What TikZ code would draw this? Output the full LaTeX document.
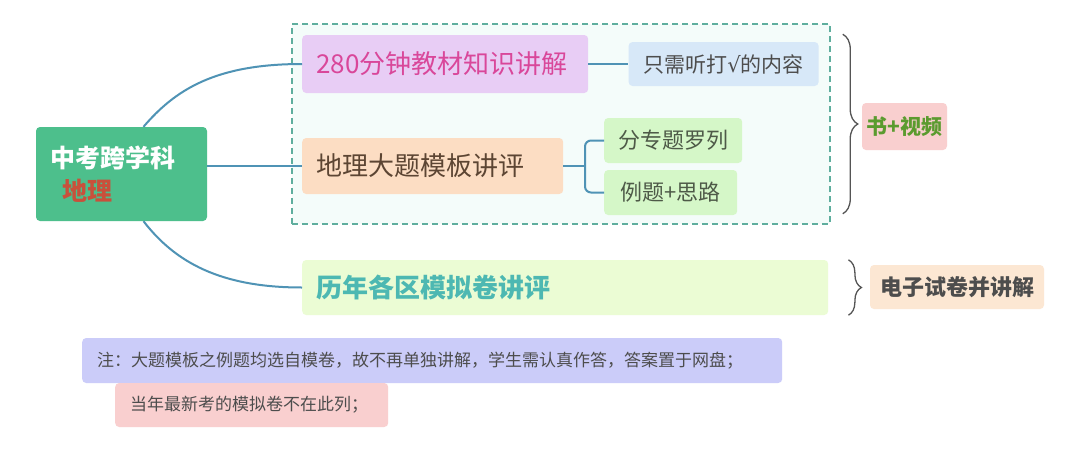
\documentclass[tikz,border=0pt]{standalone}
\usepackage{fontspec}
\setmainfont{Noto Sans CJK SC}
\newfontfamily\symfont{DejaVu Sans}
\usepackage{xcolor}
\usetikzlibrary{positioning,decorations.pathreplacing}

\definecolor{rootgreen}{HTML}{4DBF8C}
\definecolor{geored}{HTML}{C9503B}
\definecolor{linkblue}{HTML}{4F93B5}
\definecolor{framegreen}{HTML}{5FAE9E}
\definecolor{framefill}{HTML}{F4FCFA}
\definecolor{purplebg}{HTML}{E8CDF5}
\definecolor{pinktxt}{HTML}{D9479A}
\definecolor{bluebg}{HTML}{D7E8F8}
\definecolor{darktxt}{HTML}{4D4D4D}
\definecolor{peachbg}{HTML}{FCDDC3}
\definecolor{browntxt}{HTML}{5C4533}
\definecolor{greenbg}{HTML}{D5F7C8}
\definecolor{olivetxt}{HTML}{4E5A48}
\definecolor{limebg}{HTML}{EBFCD4}
\definecolor{tealtxt}{HTML}{4DB8B2}
\definecolor{pinkbg}{HTML}{F9CFCF}
\definecolor{greentxt}{HTML}{5B9B2F}
\definecolor{sandbg}{HTML}{FCE7D3}
\definecolor{lavbg}{HTML}{CBCCF9}
\definecolor{braceg}{HTML}{555555}

\tikzset{
    box/.style={rounded corners=4pt, inner ysep=0pt, inner xsep=14pt},
    link/.style={draw=linkblue, line width=2pt},
    brc/.style={draw=braceg, line width=1.3pt, decorate, decoration={brace, amplitude=#1}},
    brc/.default=8pt
}

\begin{document}
\begin{tikzpicture}[x=1pt, y=-1pt]
    \fill[white] (0,0) rectangle (1080,461);
    \useasboundingbox (0,0) rectangle (1080,461);

    % Root
    \node[box, fill=rootgreen, text=white, minimum width=171pt, minimum height=94pt,
          text width=143pt, align=left, font=\fontsize{25}{33}\selectfont\bfseries]
          (root) at (121.5,174) {中考跨学科\\\hspace*{0.5em}\textcolor{geored}{地理}};

    % Dashed frame
    \node[draw=framegreen, dash pattern=on 6pt off 4pt, line width=1.5pt, fill=framefill,
          minimum width=538pt, minimum height=200pt, inner sep=0pt] (grp) at (561,124) {};

    % Branches
    \node[box, fill=purplebg, text=pinktxt, anchor=west, text width=258pt, align=left,
          minimum height=58pt, font=\fontsize{26}{30}\selectfont] (jc) at (302,64) {280分钟教材知识讲解};
    \node[box, fill=bluebg, text=darktxt, inner xsep=8pt, minimum width=190pt, minimum height=44pt,
          font=\fontsize{21}{25}\selectfont, right=40pt of jc] (tick) {只需听打{\symfont √}的内容};

    \node[box, fill=peachbg, text=browntxt, anchor=west, text width=233pt, align=left,
          minimum height=56pt, font=\fontsize{26}{30}\selectfont] (dt) at (302,166) {地理大题模板讲评};
    \node[box, fill=greenbg, text=olivetxt, anchor=west, minimum width=138pt, minimum height=45pt,
          font=\fontsize{22}{26}\selectfont] (zt) at (604,140.5) {分专题罗列};
    \node[box, fill=greenbg, text=olivetxt, anchor=west, minimum width=133pt, minimum height=45pt,
          font=\fontsize{22}{26}\selectfont] (lt) at (604,192.5) {例题+思路};

    \node[box, fill=limebg, text=tealtxt, anchor=west, text width=498pt, align=left,
          minimum height=55pt, font=\fontsize{26}{30}\selectfont\bfseries] (mn) at (302,287.5) {历年各区模拟卷讲评};

    % Right side
    \node[box, fill=pinkbg, text=greentxt, inner xsep=2pt, minimum width=85pt, minimum height=47pt,
          font=\fontsize{21}{25}\selectfont\bfseries] (sp) at (904.5,126.5) {书+视频};
    \node[box, fill=sandbg, text=darktxt, inner xsep=8pt, minimum width=174pt, minimum height=44pt,
          font=\fontsize{22}{26}\selectfont\bfseries] (dz) at (957,287) {电子试卷并讲解};

    % Notes
    \node[box, fill=lavbg, text=darktxt, anchor=west, inner xsep=15pt, text width=670pt, align=left,
          minimum height=45pt, font=\fontsize{17}{20}\selectfont] (zy)
          at (82,360.5) {注：大题模板之例题均选自模卷，故不再单独讲解，学生需认真作答，答案置于网盘；};
    \node[box, fill=pinkbg, text=darktxt, anchor=west, inner xsep=15pt, text width=243pt, align=left,
          minimum height=44pt, font=\fontsize{17}{20}\selectfont] (dn)
          at (115,405) {当年最新考的模拟卷不在此列；};

    % Connectors
    \draw[link] ([xshift=22pt]root.north) .. controls (175,90) and (215,64) .. (jc.west);
    \draw[link] (root.east |- dt.west) -- (dt.west);
    \draw[link] ([xshift=22pt]root.south) .. controls (175,262) and (220,287.5) .. (mn.west);
    \draw[link] (jc.east) -- (tick.west);
    \coordinate (fork) at (585,166);
    \draw[link] (dt.east) -- (fork);
    \draw[link, rounded corners=6pt] (zt.west) -| (fork) |- (lt.west);

    % Braces
    \draw[brc=15pt] ([xshift=12pt,yshift=-11pt]grp.north east) -- ([xshift=12pt,yshift=11pt]grp.south east);
    \draw[brc=13pt] ([xshift=20pt]mn.north east) -- ([xshift=20pt]mn.south east);
\end{tikzpicture}
\end{document}
